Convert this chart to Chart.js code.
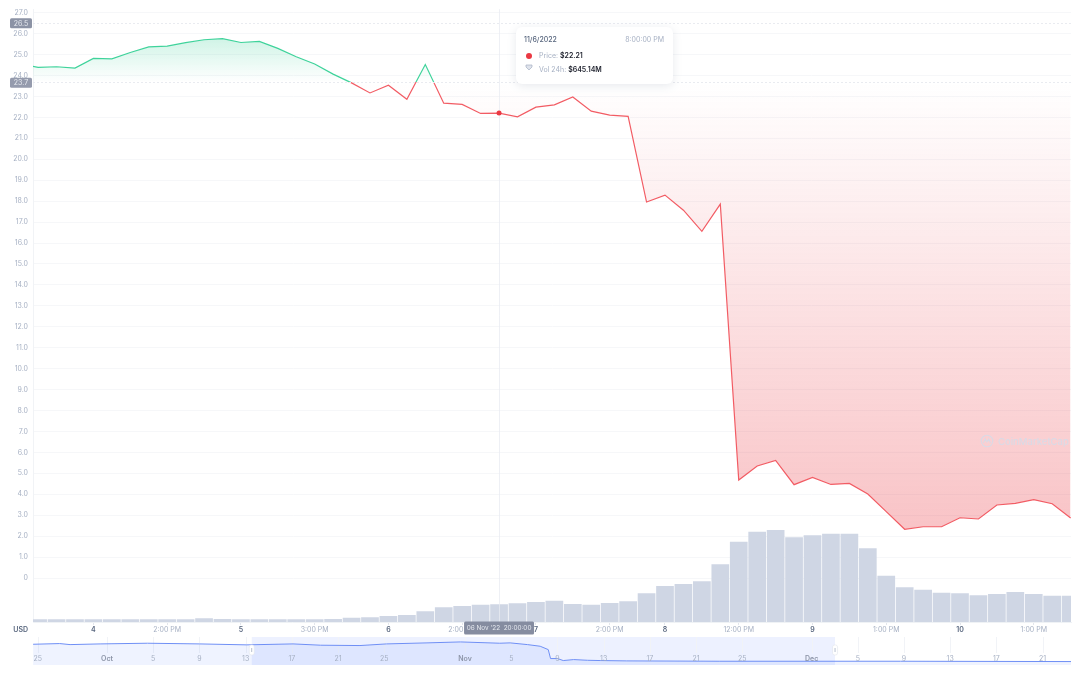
<!DOCTYPE html>
<html>
<head>
<meta charset="utf-8">
<title>Price chart</title>
<script src="https://cdn.jsdelivr.net/npm/chart.js@4"></script>
<style>
    html, body { margin: 0; background: #fff; font-family: Inter, sans-serif; }
    #wrap { position: relative; width: 1080px; height: 674px; overflow: hidden; filter: blur(0.4px); }
    canvas { position: absolute; left: 0; }
    #tip {
        position: absolute; left: 516px; top: 27px; width: 157px; height: 57px; box-sizing: border-box;
        background: #fff; border-radius: 6px; box-shadow: 0 2px 10px rgba(88,102,126,0.14);
        font-size: 7px; color: #a6b0c3;
    }
    #tip div { position: absolute; white-space: nowrap; }
    #tip b { color: #222531; font-weight: 600; }
    #tip .dot { left: 10px; top: 25.5px; width: 6px; height: 6px; border-radius: 50%; background: #ea3943; }
</style>
</head>
<body>
<div id="wrap">
    <canvas id="chart" width="1080" height="640" style="top:0"></canvas>
    <canvas id="nav" width="1080" height="30" style="top:636px"></canvas>
    <div id="tip">
        <div style="left:8px;top:8px;color:#58667e;font-weight:500">11/6/2022</div>
        <div style="right:9px;top:8px">8:00:00 PM</div>
        <div class="dot"></div>
        <div style="left:23px;top:24px">Price: <b>$22.21</b></div>
        <svg style="position:absolute;left:9px;top:37px" width="8" height="7" viewBox="0 0 8 7"><path d="M1 1h6v2L4 6 1 3z" fill="#dfe3ec" stroke="#a6b0c3" stroke-width="0.7"/></svg>
        <div style="left:23px;top:38px">Vol 24h: <b>$645.14M</b></div>
    </div>
</div>
<script>
// first entry sits just left of the visible range and gets clipped
const timeLabels = ["", "", "", "", "4", "", "", "", "2:00 PM", "", "", "", "5", "", "", "", "3:00 PM", "", "", "", "6", "", "", "", "2:00 PM", "", "", "", "7", "", "", "", "2:00 PM", "", "", "8", "", "", "", "12:00 PM", "", "", "", "9", "", "", "", "1:00 PM", "", "", "", "10", "", "", "", "1:00 PM", "", ""];
const price = [24.58, 24.39, 24.42, 24.36, 24.82, 24.8, 25.1, 25.37, 25.41, 25.57, 25.71, 25.76, 25.58, 25.63, 25.3, 24.9, 24.55, 24.07, 23.65, 23.17, 23.54, 22.87, 24.53, 22.68, 22.62, 22.19, 22.21, 22.03, 22.49, 22.6, 22.98, 22.3, 22.11, 22.05, 17.96, 18.29, 17.57, 16.56, 17.86, 4.68, 5.35, 5.62, 4.46, 4.81, 4.47, 4.52, 4.01, 3.17, 2.33, 2.45, 2.45, 2.88, 2.82, 3.49, 3.57, 3.74, 3.55, 2.87];
const volume = [100, 98, 100, 102, 96, 98, 100, 104, 102, 104, 135, 108, 100, 98, 96, 100, 104, 110, 157, 171, 219, 255, 390, 536, 583, 631, 645.14, 682, 729, 776, 656, 631, 693, 755, 1046, 1312, 1385, 1484, 2103, 2927, 3291, 3353, 3087, 3160, 3219, 3219, 2686, 1688, 1265, 1177, 1068, 1046, 973, 1021, 1094, 1021, 959, 959];
const priceTicks = [27, 26, 25, 24, 23, 22, 21, 20, 19, 18, 17, 16, 15, 14, 13, 12, 11, 10, 9, 8, 7, 6, 5, 4, 3, 2, 1, 0];
const selectedIndex = 26;
const highPrice = 26.5;
const basePrice = 23.7;

// navigator strip: days counted from 25 Sep
const navDays = [-0.4, 1.9, 2.8, 5.4, 9.5, 14, 18.1, 22.1, 24.5, 27.9, 30.2, 33.7, 36.6, 40, 40.9, 42.4, 43.5, 44.2, 44.4, 45, 45.5, 46.4, 47.6, 48.7, 51, 59, 74.7, 89.5];
const navPrice = [26, 27, 25.5, 26.5, 27.5, 26.5, 25.1, 26.5, 24.6, 24.1, 26.5, 28, 29.4, 27.5, 28, 25.5, 23.1, 18.2, 5.1, 5.1, 2.2, 3.6, 2.6, 2.2, 1.7, 1.2, 1.2, 0.7];
const navTickDays = [0, 6, 10, 14, 18, 22, 26, 30, 37, 41, 45, 49, 53, 57, 61, 67, 71, 75, 79, 83, 87];
const navTickLabels = ["25", "Oct", "5", "9", "13", "17", "21", "25", "Nov", "5", "9", "13", "17", "21", "25", "Dec", "5", "9", "13", "17", "21"];
const navSelection = [18.53, 69.03];

const FONT = "Inter, sans-serif";
const GREEN = "#3fd39b";
const RED = "#f25c64";

function isBoldLabel(text) {
    return /^\d+$/.test(text);
}

function boldTick(c) {
    return !!c.tick && isBoldLabel(timeLabels[c.tick.value]);
}

function badge(ctx, text, cx, cy, w, h, bg, size) {
    ctx.fillStyle = bg;
    ctx.beginPath();
    ctx.roundRect(cx - w / 2, cy - h / 2, w, h, 1.5);
    ctx.fill();
    ctx.fillStyle = "#e6e9ef";
    ctx.font = size + "px " + FONT;
    ctx.textAlign = "center";
    ctx.textBaseline = "middle";
    ctx.fillText(text, cx, cy + 0.5);
}

const overlay = {
    id: "overlay",
    // crosshair goes over the bars but under the price line and its dot
    beforeDatasetDraw(chart, args) {
        if (args.index !== 0) return;
        const { ctx, chartArea: a, scales } = chart;
        const cx = Math.round(scales.x.getPixelForValue(selectedIndex)) + 0.5;
        ctx.save();
        ctx.lineWidth = 1;
        ctx.strokeStyle = "rgba(232,235,241,0.75)";
        ctx.beginPath();
        ctx.moveTo(cx, a.top);
        ctx.lineTo(cx, a.bottom);
        ctx.stroke();
        ctx.restore();
    },
    afterDatasetsDraw(chart) {
        const { ctx, chartArea: a, scales } = chart;
        const y = scales.y, x = scales.x;
        ctx.save();
        ctx.lineWidth = 1;

        // high and base price lines
        ctx.strokeStyle = "#e9ebf0";
        ctx.setLineDash([2, 2]);
        [highPrice, basePrice].forEach(v => {
            const py = Math.round(y.getPixelForValue(v)) + 0.5;
            ctx.beginPath();
            ctx.moveTo(a.left, py);
            ctx.lineTo(a.right, py);
            ctx.stroke();
        });
        ctx.setLineDash([]);

        badge(ctx, highPrice.toFixed(1), 21, y.getPixelForValue(highPrice), 22, 10, "#8c93a5", 7);
        badge(ctx, basePrice.toFixed(1), 21, y.getPixelForValue(basePrice) + 1, 22, 10, "#959bad", 7);
        badge(ctx, "06 Nov '22  20:00:00", x.getPixelForValue(selectedIndex), a.bottom + 6, 70, 13, "#858ca0", 6.4);

        // currency label
        ctx.fillStyle = "#58667e";
        ctx.font = "600 7px " + FONT;
        ctx.textAlign = "right";
        ctx.fillText("USD", 28, a.bottom + 8);

        // watermark
        ctx.strokeStyle = "rgba(214,220,232,0.9)";
        ctx.fillStyle = "rgba(214,220,232,0.9)";
        ctx.lineWidth = 1.1;
        ctx.beginPath();
        ctx.arc(987, 441, 5.8, 0, Math.PI * 2);
        ctx.moveTo(983.5, 443);
        ctx.lineTo(985.3, 439);
        ctx.lineTo(987, 442);
        ctx.lineTo(988.7, 439);
        ctx.lineTo(990.5, 443);
        ctx.stroke();
        ctx.font = "500 9.5px " + FONT;
        ctx.textAlign = "left";
        ctx.fillText("CoinMarketCap", 998, 442);
        ctx.restore();
    }
};

const chart = new Chart(document.getElementById("chart"), {
    type: "line",
    data: {
        datasets: [{
            type: "line",
            order: 1,
            yAxisID: "y",
            data: price.map((v, i) => ({ x: i, y: v })),
            borderWidth: 1.2,
            borderColor: RED,
            tension: 0,
            pointRadius: ctx => ctx.dataIndex === selectedIndex ? 2.5 : 0,
            pointBackgroundColor: "#ea3943",
            pointBorderWidth: 0
        }, {
            type: "bar",
            order: 2,
            yAxisID: "vol",
            data: volume.map((v, i) => ({ x: i, y: v })),
            backgroundColor: "#cfd6e4",
            barPercentage: 0.96,
            categoryPercentage: 1
        }]
    },
    options: {
        responsive: false,
        animation: false,
        events: [],
        layout: { padding: { top: 9, right: 9 } },
        plugins: { legend: { display: false }, tooltip: { enabled: false } },
        scales: {
            x: {
                type: "linear",
                offset: false,
                min: 0.723,
                max: 57.02,
                afterBuildTicks: axis => {
                    axis.ticks = timeLabels.flatMap((t, i) => t ? [{ value: i }] : []);
                },
                afterFit: axis => { axis.height = 18; },
                grid: { offset: false, drawOnChartArea: false, color: "#e3e6ec", tickLength: 3 },
                border: { color: "#eff2f5" },
                ticks: {
                    autoSkip: false,
                    maxRotation: 0,
                    padding: 1,
                    callback: v => timeLabels[v],
                    color: c => boldTick(c) ? "#58667e" : "#a6b0c3",
                    font: c => ({ family: FONT, size: 7, weight: boldTick(c) ? "600" : "400" })
                }
            },
            y: {
                min: -2.1,
                max: 27.17,
                afterBuildTicks: axis => { axis.ticks = priceTicks.map(v => ({ value: v })); },
                afterFit: axis => { axis.width = 33; },
                grid: { color: "#f6f7f9", drawTicks: false },
                border: { color: "#f1f3f6" },
                ticks: {
                    autoSkip: false,
                    padding: 5,
                    color: "#a6b0c3",
                    font: { family: FONT, size: 7 },
                    callback: v => v === 0 ? "0" : v.toFixed(1)
                }
            },
            vol: { display: false, min: 0, max: 22344 }
        }
    },
    plugins: [overlay]
});

// gradients need the laid out scale, so they go in after the first pass
function applyGradients(c) {
    const ctx = c.ctx, y = c.scales.y, a = c.chartArea;
    const baseY = y.getPixelForValue(basePrice);
    const topY = y.getPixelForValue(Math.max(...price));
    const lowY = y.getPixelForValue(Math.min(...price));

    const stroke = ctx.createLinearGradient(0, a.top, 0, a.bottom);
    const stop = (baseY - a.top) / (a.bottom - a.top);
    stroke.addColorStop(0, GREEN);
    stroke.addColorStop(stop, GREEN);
    stroke.addColorStop(stop, RED);
    stroke.addColorStop(1, RED);

    const above = ctx.createLinearGradient(0, topY, 0, baseY);
    above.addColorStop(0, "rgba(22,199,132,0.2)");
    above.addColorStop(1, "rgba(22,199,132,0)");

    const below = ctx.createLinearGradient(0, baseY, 0, lowY);
    below.addColorStop(0, "rgba(234,57,67,0)");
    below.addColorStop(1, "rgba(234,57,67,0.3)");

    const ds = c.data.datasets[0];
    ds.borderColor = stroke;
    ds.fill = { target: { value: basePrice }, above: above, below: below };
    c.update("none");
}
applyGradients(chart);

const navPlugin = {
    id: "navPlugin",
    beforeDatasetsDraw(c) {
        const { ctx, chartArea: a, scales } = c;
        const left = scales.x.getPixelForValue(navSelection[0]);
        const right = scales.x.getPixelForValue(navSelection[1]);
        ctx.save();
        ctx.fillStyle = "rgba(56,97,251,0.09)";
        ctx.fillRect(left, a.top, right - left, a.bottom - a.top);
        ctx.strokeStyle = "#f1f3f7";
        ctx.lineWidth = 1;
        navTickDays.forEach(d => {
            const px = Math.round(scales.x.getPixelForValue(d)) + 0.5;
            ctx.beginPath();
            ctx.moveTo(px, a.top);
            ctx.lineTo(px, a.bottom - 12);
            ctx.stroke();
        });
        ctx.restore();
    },
    afterDatasetsDraw(c) {
        const { ctx, chartArea: a, scales } = c;
        ctx.save();
        ctx.textAlign = "center";
        ctx.textBaseline = "middle";
        navTickDays.forEach((d, i) => {
            const t = navTickLabels[i];
            const major = !isBoldLabel(t);
            ctx.font = (major ? "600 " : "") + "7px " + FONT;
            ctx.fillStyle = major ? "#8d95a8" : "#a6b0c3";
            ctx.fillText(t, scales.x.getPixelForValue(d), a.bottom - 6);
        });
        navSelection.forEach(d => {
            const px = scales.x.getPixelForValue(d);
            ctx.fillStyle = "#fff";
            ctx.strokeStyle = "#e3e6ec";
            ctx.lineWidth = 0.6;
            ctx.beginPath();
            ctx.roundRect(px - 2.5, a.top + 8, 5, 10, 2);
            ctx.fill();
            ctx.stroke();
            ctx.fillStyle = "#a6b0c3";
            ctx.fillRect(px - 0.4, a.top + 11, 0.8, 4);
        });
        ctx.restore();
    }
};

new Chart(document.getElementById("nav"), {
    type: "line",
    data: {
        datasets: [{
            data: navDays.map((d, i) => ({ x: d, y: navPrice[i] })),
            borderColor: "#6f8ff5",
            borderWidth: 1,
            backgroundColor: "rgba(56,97,251,0.08)",
            fill: "start",
            tension: 0,
            pointRadius: 0
        }]
    },
    options: {
        responsive: false,
        animation: false,
        events: [],
        layout: { padding: { top: 1, bottom: 1, left: 33, right: 9 } },
        plugins: { legend: { display: false }, tooltip: { enabled: false } },
        scales: {
            x: { type: "linear", display: false, min: -0.41, max: 89.46 },
            y: { display: false, min: -4.3, max: 36.6 }
        }
    },
    plugins: [navPlugin]
});
</script>
</body>
</html>
